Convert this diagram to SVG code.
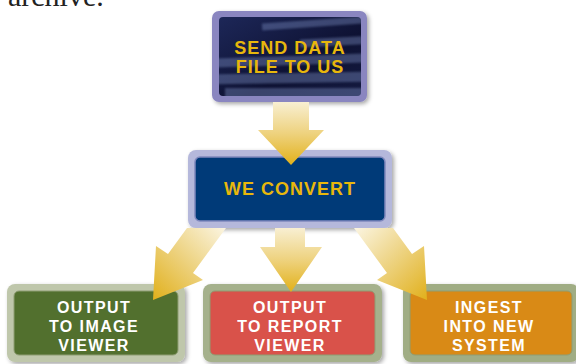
<svg xmlns="http://www.w3.org/2000/svg" width="576" height="364" viewBox="0 0 576 364">
<style>
.lbl{font-family:"Liberation Sans",Arial,sans-serif;font-weight:bold;text-anchor:middle}
.gold{fill:#e8b70c;font-size:18px;letter-spacing:1px}
.wht{fill:#ffffff;font-size:16px;letter-spacing:1.4px}
.streak{fill:#8da2d6}
.doc{font-family:"Liberation Serif","Times New Roman",serif;font-size:30px;fill:#222}
</style>
<defs>
<filter id="sh" x="-10%" y="-10%" width="125%" height="130%">
<feDropShadow dx="2" dy="2" stdDeviation="2" flood-color="#000" flood-opacity="0.35"/>
</filter>
<filter id="blur"><feGaussianBlur stdDeviation="1.2"/></filter>
<linearGradient id="gDown" x1="0" y1="0" x2="0" y2="1">
<stop offset="0" stop-color="#f8efd2"/>
<stop offset="0.5" stop-color="#eed27e"/>
<stop offset="1" stop-color="#e2b11a"/>
</linearGradient>
<linearGradient id="gLeft" x1="1" y1="0" x2="0" y2="1">
<stop offset="0" stop-color="#fbf5e2"/>
<stop offset="0.5" stop-color="#edd27f"/>
<stop offset="1" stop-color="#e1b01b"/>
</linearGradient>
<linearGradient id="gRight" x1="0" y1="0" x2="1" y2="1">
<stop offset="0" stop-color="#fbf5e2"/>
<stop offset="0.5" stop-color="#edd27f"/>
<stop offset="1" stop-color="#e1b01b"/>
</linearGradient>
<linearGradient id="gNavy" x1="0" y1="0" x2="1" y2="1">
<stop offset="0" stop-color="#1d2758"/>
<stop offset="0.6" stop-color="#0e1233"/>
<stop offset="1" stop-color="#141a40"/>
</linearGradient>
<clipPath id="cpTop"><rect x="219" y="17" width="142" height="79" rx="4"/></clipPath>
</defs>

<text class="doc" x="8" y="5.5">archive.</text>

<g id="send">
<rect x="212" y="11" width="155" height="91" rx="7" fill="#8a86c0" filter="url(#sh)"/>
<rect x="219" y="17" width="142" height="79" rx="4" fill="url(#gNavy)"/>
<g clip-path="url(#cpTop)" opacity="0.35" filter="url(#blur)">
<rect class="streak" x="262" y="20" width="100" height="7" transform="rotate(-4 312 24)"/>
<rect class="streak" x="300" y="38" width="62" height="8" transform="rotate(-3 330 42)"/>
<rect class="streak" x="214" y="56" width="150" height="9" transform="rotate(-2 290 60)"/>
<rect class="streak" x="212" y="73" width="152" height="10" transform="rotate(-1 290 78)"/>
<rect class="streak" x="225" y="88" width="140" height="11"/>
</g>
<text class="lbl gold" x="290" y="54">SEND DATA</text>
<text class="lbl gold" x="290" y="73">FILE TO US</text>
</g>

<g id="convert">
<rect x="188" y="150" width="204" height="78" rx="8" fill="#b5b8db" filter="url(#sh)"/>
<rect x="195" y="157" width="190" height="64" rx="5" fill="#003a78" stroke="#7f88bd" stroke-width="1.5"/>
<text class="lbl gold" x="290" y="195">WE CONVERT</text>
</g>

<g id="image">
<rect x="7" y="284" width="178" height="78" rx="8" fill="#bfc7ab" filter="url(#sh)"/>
<rect x="14" y="291" width="164" height="64" rx="5" fill="#52702e" stroke="#8e9d73" stroke-width="1"/>
<text class="lbl wht" x="94" y="313">OUTPUT</text>
<text class="lbl wht" x="94" y="332">TO IMAGE</text>
<text class="lbl wht" x="94" y="351">VIEWER</text>
</g>

<g id="report">
<rect x="203" y="284" width="179" height="78" rx="8" fill="#a5b18c" filter="url(#sh)"/>
<rect x="210" y="291" width="165" height="64" rx="5" fill="#d9524a" stroke="#8e9d73" stroke-width="1"/>
<text class="lbl wht" x="290" y="313">OUTPUT</text>
<text class="lbl wht" x="290" y="332">TO REPORT</text>
<text class="lbl wht" x="290" y="351">VIEWER</text>
</g>

<g id="ingest">
<rect x="403" y="284" width="176" height="78" rx="8" fill="#a0ad84" filter="url(#sh)"/>
<rect x="410" y="291" width="162" height="64" rx="5" fill="#d98a16" stroke="#8e9d73" stroke-width="1"/>
<text class="lbl wht" x="489" y="313">INGEST</text>
<text class="lbl wht" x="489" y="332">INTO NEW</text>
<text class="lbl wht" x="489" y="351">SYSTEM</text>
</g>

<g id="connectors">
<polygon points="273,102 309,102 309,130 324,130 291,165 258,130 273,130" fill="url(#gDown)"/>
<polygon points="275,228 305,228 305,247 322,247 291,292 260,247 275,247" fill="url(#gDown)"/>
<polygon points="187,228 226,228 193,273 203,280 153,300 156,246 168,254" fill="url(#gLeft)"/>
<polygon points="393,228 354,228 387,273 377,280 427,300 424,246 412,254" fill="url(#gRight)"/>
</g>
</svg>
